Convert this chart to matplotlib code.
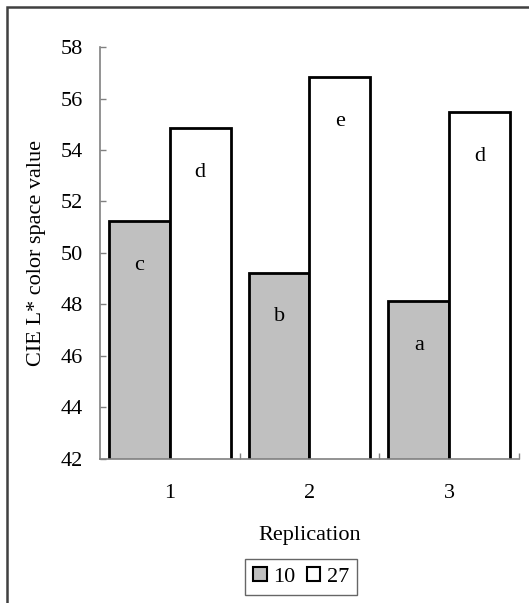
import numpy as np
import matplotlib.pyplot as plt
from matplotlib.patches import Rectangle
from matplotlib.ticker import FixedLocator

# data
replications = ['1', '2', '3']
series_names = ['10', '27']
values_10 = [51.24, 49.24, 48.13]
values_27 = [54.85, 56.82, 55.47]
letters_10 = ['c', 'b', 'a']
letters_27 = ['d', 'e', 'd']
yticks = [42, 44, 46, 48, 50, 52, 54, 56, 58]

plt.rcParams['font.family'] = ['Liberation Serif', 'DejaVu Serif']
plt.rcParams['font.size'] = 16

fig = plt.figure(figsize=(5.29, 6.03), dpi=100)
ax = fig.add_axes([0.189, 0.239, 0.792, 0.683])

x = np.arange(1, len(replications) + 1)
w = 0.435
b1 = ax.bar(x - w / 2, values_10, w, color='#c0c0c0',
            edgecolor='black', linewidth=2, label=series_names[0])
b2 = ax.bar(x + w / 2, values_27, w, color='white',
            edgecolor='black', linewidth=2, label=series_names[1])

# significance letters inside the bars, a bit under the top
for xi, v, t in zip(x - w / 2, values_10, letters_10):
    ax.annotate(t, (xi, v), xytext=(0, -32), textcoords='offset points',
                ha='center', va='center')
for xi, v, t in zip(x + w / 2, values_27, letters_27):
    ax.annotate(t, (xi, v), xytext=(0, -32), textcoords='offset points',
                ha='center', va='center')

ax.set_xlim(0.5, len(replications) + 0.5)
ax.set_ylim(yticks[0], yticks[-1])
ax.set_yticks(yticks)
ax.set_xticks(x)
ax.set_xticklabels(replications)
ax.xaxis.set_minor_locator(FixedLocator(x + 0.5))

for s in ['top', 'right']:
    ax.spines[s].set_visible(False)
for s in ['left', 'bottom']:
    ax.spines[s].set_color('#808080')
    ax.spines[s].set_linewidth(1.2)

ax.tick_params(axis='y', direction='in', length=4.5, width=1, color='#808080', pad=12)
ax.tick_params(axis='x', which='major', length=0, pad=18)
ax.tick_params(axis='x', which='minor', direction='in', length=4, width=1, color='#808080')

ax.set_ylabel('CIE L* color space value', labelpad=11)
ax.set_xlabel('Replication', labelpad=17)

leg = fig.legend(handles=[b1, b2], loc='center', bbox_to_anchor=(0.569, 0.043),
                 ncol=2, handlelength=0.6, handleheight=0.6, handletextpad=0.3,
                 columnspacing=0.5, borderpad=0.35, fancybox=False, frameon=True)
leg.get_frame().set_edgecolor('#404040')
leg.get_frame().set_linewidth(1)
for p in leg.get_patches():
    p.set_linewidth(1.5)

# outer frame, cut off at the right and bottom like the reference
fig.patches.append(Rectangle((7 / 529, -0.1), 1.2, 1.1 - 7 / 603, transform=fig.transFigure,
                             fill=False, edgecolor='#404040', linewidth=1.8))

fig.savefig('out.png', dpi=100)
